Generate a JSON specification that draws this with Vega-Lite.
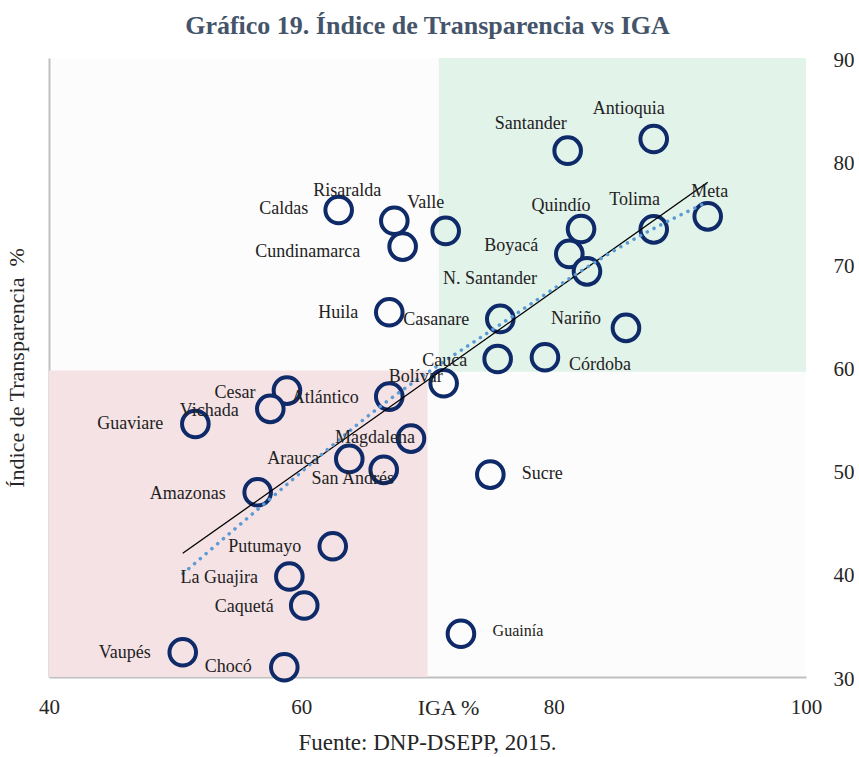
{
  "$schema": "https://vega.github.io/schema/vega-lite/v6.json",
  "background": "white",
  "padding": {"left": 5, "top": 13, "right": 0, "bottom": 0},
  "config": {
    "font": "Liberation Serif",
    "view": {"stroke": null, "fill": "#FCFCFC"},
    "axis": {"grid": false, "ticks": false, "labelFont": "Liberation Serif", "titleFont": "Liberation Serif", "labelColor": "#262626", "titleColor": "#262626", "titleFontWeight": "normal", "domainColor": "#BFBFBF", "domainWidth": 1.5}
  },
  "title": {"text": "Gráfico 19. Índice de Transparencia vs IGA", "fontSize": 26, "fontWeight": "bold", "color": "#44546A", "anchor": "middle", "frame": "group", "offset": 10},
  "datasets": {
    "zonas": [
      {"zona": "Alto", "x1": 70.9, "x2": 100, "y1": 59.6, "y2": 90},
      {"zona": "Bajo", "x1": 40, "x2": 70, "y1": 30, "y2": 59.7}
    ],
    "tendencia": [
      {"IGA": 50.62, "ITD": 40.03},
      {"IGA": 57.36, "ITD": 47.1},
      {"IGA": 66.55, "ITD": 56.5},
      {"IGA": 74.79, "ITD": 63.38},
      {"IGA": 87.16, "ITD": 72.97},
      {"IGA": 92.07, "ITD": 75.98}
    ],
    "deptos": [
      {"name": "Amazonas", "IGA": 56.54, "ITD": 47.91},
      {"name": "Antioquia", "IGA": 87.93, "ITD": 82.15},
      {"name": "Arauca", "IGA": 63.8, "ITD": 51.14},
      {"name": "Atlántico", "IGA": 66.97, "ITD": 57.18},
      {"name": "Bolívar", "IGA": 71.28, "ITD": 58.47},
      {"name": "Boyacá", "IGA": 81.24, "ITD": 71.01},
      {"name": "Caldas", "IGA": 62.96, "ITD": 75.27},
      {"name": "Caquetá", "IGA": 60.23, "ITD": 36.93},
      {"name": "Casanare", "IGA": 75.77, "ITD": 64.71},
      {"name": "Cauca", "IGA": 75.56, "ITD": 60.83},
      {"name": "Cesar", "IGA": 58.86, "ITD": 57.76},
      {"name": "Chocó", "IGA": 58.65, "ITD": 30.95},
      {"name": "Córdoba", "IGA": 79.31, "ITD": 60.99},
      {"name": "Cundinamarca", "IGA": 68.03, "ITD": 71.72},
      {"name": "Guainía", "IGA": 72.65, "ITD": 34.19},
      {"name": "Guaviare", "IGA": 51.6, "ITD": 54.53},
      {"name": "Huila", "IGA": 66.97, "ITD": 65.35},
      {"name": "La Guajira", "IGA": 59.05, "ITD": 39.74},
      {"name": "Magdalena", "IGA": 68.69, "ITD": 53.11},
      {"name": "Meta", "IGA": 92.21, "ITD": 74.65},
      {"name": "Nariño", "IGA": 85.73, "ITD": 63.84},
      {"name": "N. Santander", "IGA": 82.64, "ITD": 69.32},
      {"name": "Putumayo", "IGA": 62.49, "ITD": 42.67},
      {"name": "Quindío", "IGA": 82.17, "ITD": 73.43},
      {"name": "Risaralda", "IGA": 67.37, "ITD": 74.23},
      {"name": "San Andrés", "IGA": 66.53, "ITD": 50.08},
      {"name": "Santander", "IGA": 81.11, "ITD": 81.02},
      {"name": "Sucre", "IGA": 74.98, "ITD": 49.62},
      {"name": "Tolima", "IGA": 87.93, "ITD": 73.39},
      {"name": "Valle", "IGA": 71.44, "ITD": 73.24},
      {"name": "Vaupés", "IGA": 50.6, "ITD": 32.4},
      {"name": "Vichada", "IGA": 57.54, "ITD": 55.99}
    ]
  },
  "vconcat": [
    {
      "width": 757,
      "height": 619,
      "title": {"text": "Fuente: DNP-DSEPP, 2015.", "orient": "bottom", "fontSize": 23, "fontWeight": "normal", "color": "#262626", "anchor": "middle", "frame": "group", "offset": 14},
      "resolve": {"axis": {"y": "independent"}},
      "layer": [
        {
          "data": {"name": "zonas"},
          "mark": {"type": "rect"},
          "encoding": {
            "x": {"field": "x1", "type": "quantitative", "scale": {"domain": [40, 100], "nice": false, "zero": false},
              "axis": {"values": [40, 60, 80, 100], "labelFontSize": 21, "labelPadding": 19, "domainWidth": 2, "title": "IGA %", "titleFontSize": 22, "titleX": 399, "titleY": 30, "titleBaseline": "middle", "titleAlign": "center", "labelFlush": false}},
            "x2": {"field": "x2"},
            "y": {"field": "y1", "type": "quantitative", "scale": {"domain": [30, 90], "nice": false, "zero": false},
              "axis": {"orient": "left", "labels": false, "domainWidth": 2, "title": "Índice de Transparencia \u00a0%", "titleFontSize": 22, "titlePadding": 21}},
            "y2": {"field": "y2"},
            "color": {"field": "zona", "type": "nominal", "scale": {"domain": ["Alto", "Bajo"], "range": ["#E2F3EA", "#F5E2E5"]}, "legend": null}
          }
        },
        {
          "data": {"name": "deptos"},
          "mark": {"type": "circle", "size": 707, "stroke": "#0E2A69", "strokeWidth": 4, "opacity": 1, "fillOpacity": 1},
          "encoding": {
            "x": {"field": "IGA", "type": "quantitative"},
            "y": {"field": "ITD", "type": "quantitative",
              "axis": {"orient": "right", "domain": false, "values": [30, 40, 50, 60, 70, 80, 90], "labelFontSize": 21, "labelPadding": 27, "labelOffset": 2, "title": null, "labelFlush": false}},
            "fill": {"condition": [
              {"test": "datum.IGA >= 70.9 && datum.ITD >= 59.6", "value": "#E2F3EA"},
              {"test": "datum.IGA <= 70 && datum.ITD <= 59.7", "value": "#F5E2E5"}
            ], "value": "#FCFCFC"}
          }
        },
        {
          "data": {"name": "deptos"},
          "transform": [{"regression": "ITD", "on": "IGA"}],
          "mark": {"type": "line", "color": "#000000", "strokeWidth": 1.3},
          "encoding": {
            "x": {"field": "IGA", "type": "quantitative"},
            "y": {"field": "ITD", "type": "quantitative", "axis": null}
          }
        },
        {
          "data": {"name": "tendencia"},
          "mark": {"type": "line", "color": "#5B9BD5", "strokeWidth": 3.5, "strokeDash": [0.1, 7.5], "strokeCap": "round", "interpolate": "monotone"},
          "encoding": {
            "x": {"field": "IGA", "type": "quantitative"},
            "y": {"field": "ITD", "type": "quantitative", "axis": null}
          }
        },
        {
          "data": {"name": "deptos"},
          "mark": {
            "type": "text", "font": "Liberation Serif", "color": "#222222", "align": "center", "baseline": "middle",
            "fontSize": {"expr": "datum.name === 'Guainía' ? 16 : 18"},
            "dx": {"expr": "({'Amazonas': -70, 'Antioquia': -25, 'Arauca': -56, 'Atlántico': -64, 'Bolívar': -28, 'Boyacá': -58, 'Caldas': -55, 'Caquetá': -60, 'Casanare': -64, 'Cauca': -53, 'Cesar': -52, 'Chocó': -56, 'Córdoba': 55, 'Cundinamarca': -95, 'Guainía': 57, 'Guaviare': -65, 'Huila': -51, 'La Guajira': -70, 'Magdalena': -36, 'Meta': 2, 'Nariño': -50, 'N. Santander': -97, 'Putumayo': -68, 'Quindío': -20, 'Risaralda': -47, 'San Andrés': -31, 'Santander': -37, 'Sucre': 52, 'Tolima': -19, 'Valle': -20, 'Vaupés': -58, 'Vichada': -61})[datum.name]"},
            "dy": {"expr": "({'Amazonas': 2, 'Antioquia': -30, 'Arauca': 0, 'Atlántico': 1, 'Bolívar': -6, 'Boyacá': -8, 'Caldas': -1, 'Caquetá': 1, 'Casanare': 1, 'Cauca': 2, 'Cesar': 2, 'Chocó': 0, 'Córdoba': 8, 'Cundinamarca': 5, 'Guainía': -3, 'Guaviare': 0, 'Huila': 1, 'La Guajira': 1, 'Magdalena': -1, 'Meta': -24, 'Nariño': -9, 'N. Santander': 8, 'Putumayo': 1, 'Quindío': -23, 'Risaralda': -30, 'San Andrés': 9, 'Santander': -27, 'Sucre': -1, 'Tolima': -29, 'Valle': -28, 'Vaupés': 1, 'Vichada': 2})[datum.name]"}
          },
          "encoding": {
            "x": {"field": "IGA", "type": "quantitative"},
            "y": {"field": "ITD", "type": "quantitative", "axis": null},
            "text": {"field": "name"}
          }
        }
      ]
    }
  ]
}
